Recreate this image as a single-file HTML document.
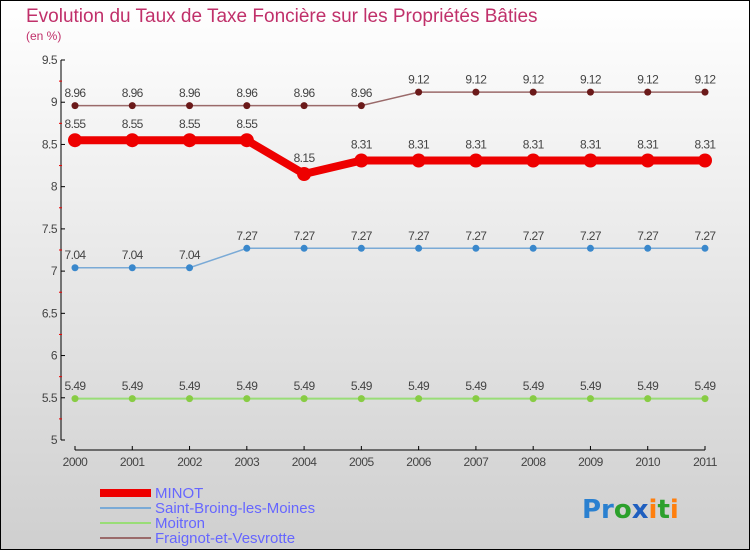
<!DOCTYPE html>
<html><head><meta charset="utf-8"><style>
body{margin:0}
#c{width:750px;height:550px;position:relative;box-sizing:border-box;border:1px solid #000;background:linear-gradient(#ffffff,#cfcfcf);font-family:"Liberation Sans",sans-serif;overflow:hidden}
</style></head><body>
<div id="c">
<svg id="s" width="750" height="550" style="position:absolute;left:-1px;top:-1px">
<text x="26" y="22" font-size="19" fill="#c0306a">Evolution du Taux de Taxe Foncière sur les Propriétés Bâties</text>
<text x="26" y="40" font-size="12" fill="#c0306a">(en %)</text>
<g id="axes"></g><g id="series"></g>
<g>
<rect x="100" y="489" width="51" height="8" fill="#ee0000"/>
<text x="155" y="498" font-size="15" fill="#6666ff">MINOT</text>
<rect x="100" y="507" width="51" height="2" fill="#7aaad6"/>
<text x="155" y="513" font-size="15" fill="#6666ff">Saint-Broing-les-Moines</text>
<rect x="100" y="522" width="51" height="2" fill="#99dd77"/>
<text x="155" y="528" font-size="15" fill="#6666ff">Moitron</text>
<rect x="100" y="537" width="51" height="2" fill="#9a6a6a"/>
<text x="155" y="543" font-size="15" fill="#6666ff">Fraignot-et-Vesvrotte</text>
</g>
<text x="582" y="518" font-size="26" font-family="DejaVu Sans" font-weight="bold"><tspan fill="#2a80d0">Pr</tspan><tspan fill="#2ca02c">o</tspan><tspan fill="#1f5fbf">x</tspan><tspan fill="#ff7f0e">i</tspan><tspan fill="#2ca02c">t</tspan><tspan fill="#ff7f0e">i</tspan></text>
</svg>
</div>
<script>
const years=[2000,2001,2002,2003,2004,2005,2006,2007,2008,2009,2010,2011];
const minot=[8.55,8.55,8.55,8.55,8.15,8.31,8.31,8.31,8.31,8.31,8.31,8.31];
const saintBroing=[7.04,7.04,7.04,7.27,7.27,7.27,7.27,7.27,7.27,7.27,7.27,7.27];
const moitron=[5.49,5.49,5.49,5.49,5.49,5.49,5.49,5.49,5.49,5.49,5.49,5.49];
const fraignot=[8.96,8.96,8.96,8.96,8.96,8.96,9.12,9.12,9.12,9.12,9.12,9.12];
const yTicks=["5","5.5","6","6.5","7","7.5","8","8.5","9","9.5"];
const NS="http://www.w3.org/2000/svg";
const X=i=>75+i*(630/11);
const Y=v=>440-(v-5)*(380/4.5);
function mk(tag,at,parent,txt){const e=document.createElementNS(NS,tag);for(const k in at)e.setAttribute(k,at[k]);if(txt!==undefined)e.textContent=txt;parent.appendChild(e);return e;}
const ax=document.getElementById('axes'),sr=document.getElementById('series');
let e=mk('line',{x1:61,y1:60,x2:61,y2:440,stroke:'#000'},ax);

e=mk('line',{x1:75,y1:450,x2:705,y2:450,stroke:'#000'},ax);

yTicks.forEach(t=>{const v=parseFloat(t),y=Y(v);
 mk('line',{x1:61,y1:y,x2:65,y2:y,stroke:'#000'},ax);
 if(v<9.5)mk('line',{x1:59,y1:Y(v+0.25),x2:62,y2:Y(v+0.25),stroke:'#e00'},ax);
 const l=mk('text',{x:57,y:y+4,'font-size':12,fill:'#444','text-anchor':'end','letter-spacing':'-0.5'},ax,t);
 });
years.forEach((yr,i)=>{mk('line',{x1:X(i),y1:446,x2:X(i),y2:450,stroke:'#000'},ax);
 const l=mk('text',{x:X(i),y:466,'font-size':12,fill:'#444','text-anchor':'middle','letter-spacing':'-0.5'},ax,String(yr));
 });
function series(name,vals,color,lw,r,dot){
 const g=mk('g',{},sr);
 mk('polyline',{points:vals.map((v,i)=>X(i)+','+Y(v)).join(' '),fill:'none',stroke:color,'stroke-width':lw},g);
 vals.forEach((v,i)=>{const c=mk('circle',{cx:X(i),cy:Y(v),r:r,fill:dot},g);
  
  const t=mk('text',{x:X(i),y:Y(v)-(r+5),'font-size':12,fill:'#444','text-anchor':'middle','letter-spacing':'-0.6'},g,String(v));
  });
}
series('fraignot',fraignot,'#9a6a6a',1.5,3.5,'#6b1a1a');
series('minot',minot,'#ee0000',8,7,'#ee0000');
series('saint-broing',saintBroing,'#7aaad6',1.5,3.5,'#3a88cc');
series('moitron',moitron,'#99dd77',2,3.5,'#88cc44');
</script>
</body></html>
